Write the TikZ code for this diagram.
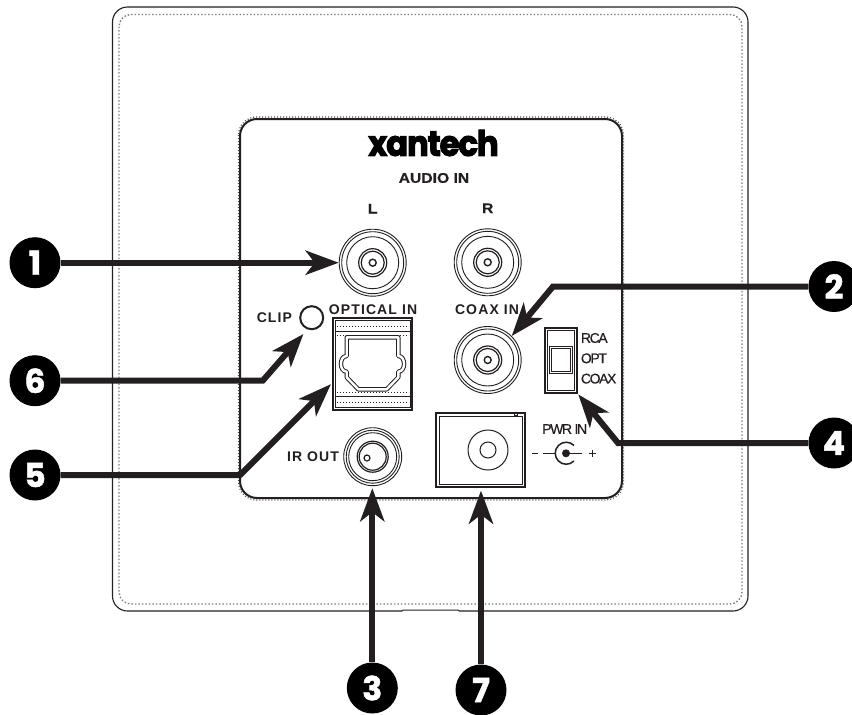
\documentclass[tikz,border=0pt]{standalone}
\usepackage{fontspec}
\setmainfont{Liberation Sans}
\newfontfamily\widefont[LetterSpace=8]{Liberation Sans}
\newfontfamily\tightfont[LetterSpace=-10,FakeBold=0.4]{Liberation Sans}
\newfontfamily\audiofont[FakeStretch=1.12,FakeBold=0.3]{Liberation Sans}
\newfontfamily\badgefont[FakeBold=1.5]{Poppins}
\newfontfamily\logofont[FakeStretch=0.92,LetterSpace=-3,FakeBold=3]{Poppins}
\usetikzlibrary{positioning,arrows.meta}
\definecolor{inkdark}{HTML}{231F20}
\tikzset{
  node distance=10pt, auto,
  ring/.style={circle, draw=inkdark, line width=0.9pt, inner sep=0pt, fill=white},
  wire/.style={draw=inkdark, line width=6pt, line join=miter, -{Stealth[length=33pt,width=24pt,inset=9pt]}},
  badge/.style={circle, fill=black, text=white, inner sep=0pt, minimum size=51pt, font=\badgefont\bfseries\fontsize{33}{33}\selectfont},
  boxline/.style={rectangle, draw=inkdark, line width=1.2pt, inner sep=0pt, fill=white},
  tag/.style={inner sep=0pt, text=inkdark, font=\widefont\bfseries\fontsize{14}{16}\selectfont},
  plaintag/.style={inner sep=0pt, text=inkdark, font=\audiofont\bfseries\fontsize{14}{16}\selectfont},
  smalltag/.style={inner sep=0pt, text=inkdark, anchor=west, font=\tightfont\fontsize{14}{16}\selectfont},
}
% name, position
\newcommand{\rcajack}[2]{
  \node (#1) [ring, minimum size=67pt] at #2 {};
  \node (#1b) [ring, minimum size=62pt] at (#1) {};
  \node (#1c) [ring, minimum size=52pt] at (#1) {};
  \node (#1d) [ring, line width=1.2pt, minimum size=28pt] at (#1) {};
  \node (#1e) [ring, line width=1.2pt, minimum size=23pt] at (#1) {};
  \node (#1f) [ring, line width=1.4pt, minimum size=7pt] at (#1) {};
}

\begin{document}
\begin{tikzpicture}[x=1pt,y=-1pt]
\useasboundingbox (0,0) rectangle (852,715);
\fill[white] (0,0) rectangle (852,715);
% outer plate
\draw[inkdark, line width=1.1pt, rounded corners=15pt] (402,611) -- (112.5,611) -- (112.5,7) -- (748,7) -- (748,611) -- (459,611);
\draw[inkdark, line width=1pt] (402,611) -- (403,610) -- (458,610) -- (459,611);
\draw[gray, line width=1.4pt, dash pattern=on 1.5pt off 2pt, rounded corners=12pt] (119,14.5) rectangle (742,604);
% inner panel
\draw[inkdark, line width=2pt, rounded corners=17pt] (240,119) rectangle (622,498);
\draw[inkdark!80, line width=1.2pt, dash pattern=on 1pt off 2pt, rounded corners=18pt] (238.5,117) rectangle (623.5,500);
% logo and headings
\node (logo) at (433.5,143) {\logofont\bfseries\fontsize{35}{35}\selectfont xantech};
\node (audioin) [plaintag] at (434,178) {AUDIO IN};
% jacks
\rcajack{jackl}{(372.7,262.7)}
\rcajack{jackr}{(487.7,262.3)}
\rcajack{jackc}{(487.7,360)}
\node (irout) [ring, minimum size=58pt] at (372.7,456.7) {};
\node (iroutb) [ring, minimum size=53pt] at (irout) {};
\node (iroutc) [ring, minimum size=48pt] at (irout) {};
\node (iroutd) [ring, line width=1.2pt, minimum size=31pt] at (irout) {};
\node (iroute) [ring, line width=1.2pt, minimum size=27pt] at (irout) {};
\node (iroutf) [ring, line width=1.2pt, minimum size=6pt] at (367,458) {};
\node (labl) [plaintag, above=49pt of jackl.center] {L};
\node (labr) [plaintag, above=49pt of jackr.center] {R};
\node (coaxin) [tag] at (487,310) {COAX IN};
\node (irlab) [tag] at (313,457) {IR OUT};
% clip
\node (clip) [ring, line width=2pt, minimum size=23pt] at (311.7,317.7) {};
\node (cliplab) [tag, left=7pt of clip] {CLIP};
% optical
\node (optical) [boxline, minimum width=79pt, minimum height=92pt] at (372.5,364) {};
\node (opticalin) [tag] at (373,310) {OPTICAL IN};
\draw[inkdark, line width=1pt] (335.5,320.5) rectangle (410,407.5);
\draw[inkdark, line width=1pt] (335.5,331.5) -- (410,331.5) (335.5,396) -- (410,396);
\draw[inkdark, line width=1pt, dotted] (337,326.5) -- (409,326.5) (337,335.5) -- (409,335.5) (337,392) -- (409,392) (337,402) -- (409,402);
\draw[inkdark, line width=1pt, double=white, double distance=2.4pt, line join=round]
  (346.7,337.3) -- (398.3,337.3) -- (398.3,356) .. controls (406,356) and (406,371.7) .. (398.3,371.7)
  -- (398.3,377.3) -- (386.7,389.3) -- (358.3,389.3) -- (346.7,377.3) -- (346.7,371.7)
  .. controls (339,371.7) and (339,356) .. (346.7,356) -- cycle;
% switch
\node (switch) [boxline, minimum width=32pt, minimum height=65pt] at (561,360.5) {};
\draw[inkdark, line width=1pt] (547.5,330.5) rectangle (574.5,390.5);
\node (slider) [boxline, line width=1.2pt, minimum width=23.5pt, minimum height=27pt] at (561,360) {};
\node (sliderb) [boxline, line width=1pt, minimum width=19.5pt, minimum height=22.5pt] at (slider) {};
\node (rca) [smalltag] at (580.7,338) {RCA};
\node (opt) [smalltag, below=10pt of rca.south west, anchor=north west] {OPT};
\node (coax) [smalltag, below=10pt of opt.south west, anchor=north west] {COAX};
% power
\node (pwrbox) [boxline, minimum width=89pt, minimum height=74pt] at (480.5,450) {};
\draw[inkdark, line width=1pt] (439,416) rectangle (522,484);
\draw[inkdark, line width=1pt] (488,450) circle[radius=20] (488,450) circle[radius=8];
\draw[inkdark, line width=1.6pt] (484,413) -- (490,413);
\draw[inkdark, line width=0.8pt] (514.5,412.5) rectangle (517.5,415.5);
\node (pwrin) [smalltag, anchor=center] at (564.7,429) {PWR IN};
\draw[inkdark, line width=1.5pt] (532,453.3) -- (538,453.3) (543,453.3) -- (555,453.3) (566,453.3) -- (582,453.3);
\draw[inkdark, line width=1.5pt] (574,461) arc[start angle=45, end angle=315, radius=11];
\fill[inkdark] (566,453.3) circle[radius=4];
\draw[inkdark, line width=1.5pt] (589,453.3) -- (596,453.3) (592.5,450) -- (592.5,456.5);
% badges
\node (one) [badge] at (35,262.7) {1};
\node (two) [badge] at (834,286.5) {2};
\node (three) [badge] at (372.3,688) {3};
\node (four) [badge] at (834,443) {4};
\node (five) [badge] at (35,475) {5};
\node (six) [badge] at (35,380.7) {6};
\node (seven) [badge] at (481,690) {7};
% elbows
\coordinate (twoelbow) at (553,286.5);
\coordinate (fourelbow) at (618,443);
\coordinate (fiveelbow) at (240,475);
\coordinate (sixelbow) at (262.7,380.7);
% connectors
\draw[wire] (one) -- (jackl.west);
\draw[wire] (two) -- (twoelbow) -- (jackc.north east);
\draw[wire, shorten >=2pt] (three) -- (irout.south -| three);
\draw[wire, shorten >=1pt] (four) -- (fourelbow) -- (switch.south east);
\draw[wire, shorten >=2pt] (five) -- (fiveelbow) -- (optical.205);
\draw[wire, shorten >=6pt] (six) -- (sixelbow) -- (clip.-110);
\draw[wire, shorten >=3pt] (seven) -- (pwrbox.south -| seven);
\end{tikzpicture}
\end{document}
